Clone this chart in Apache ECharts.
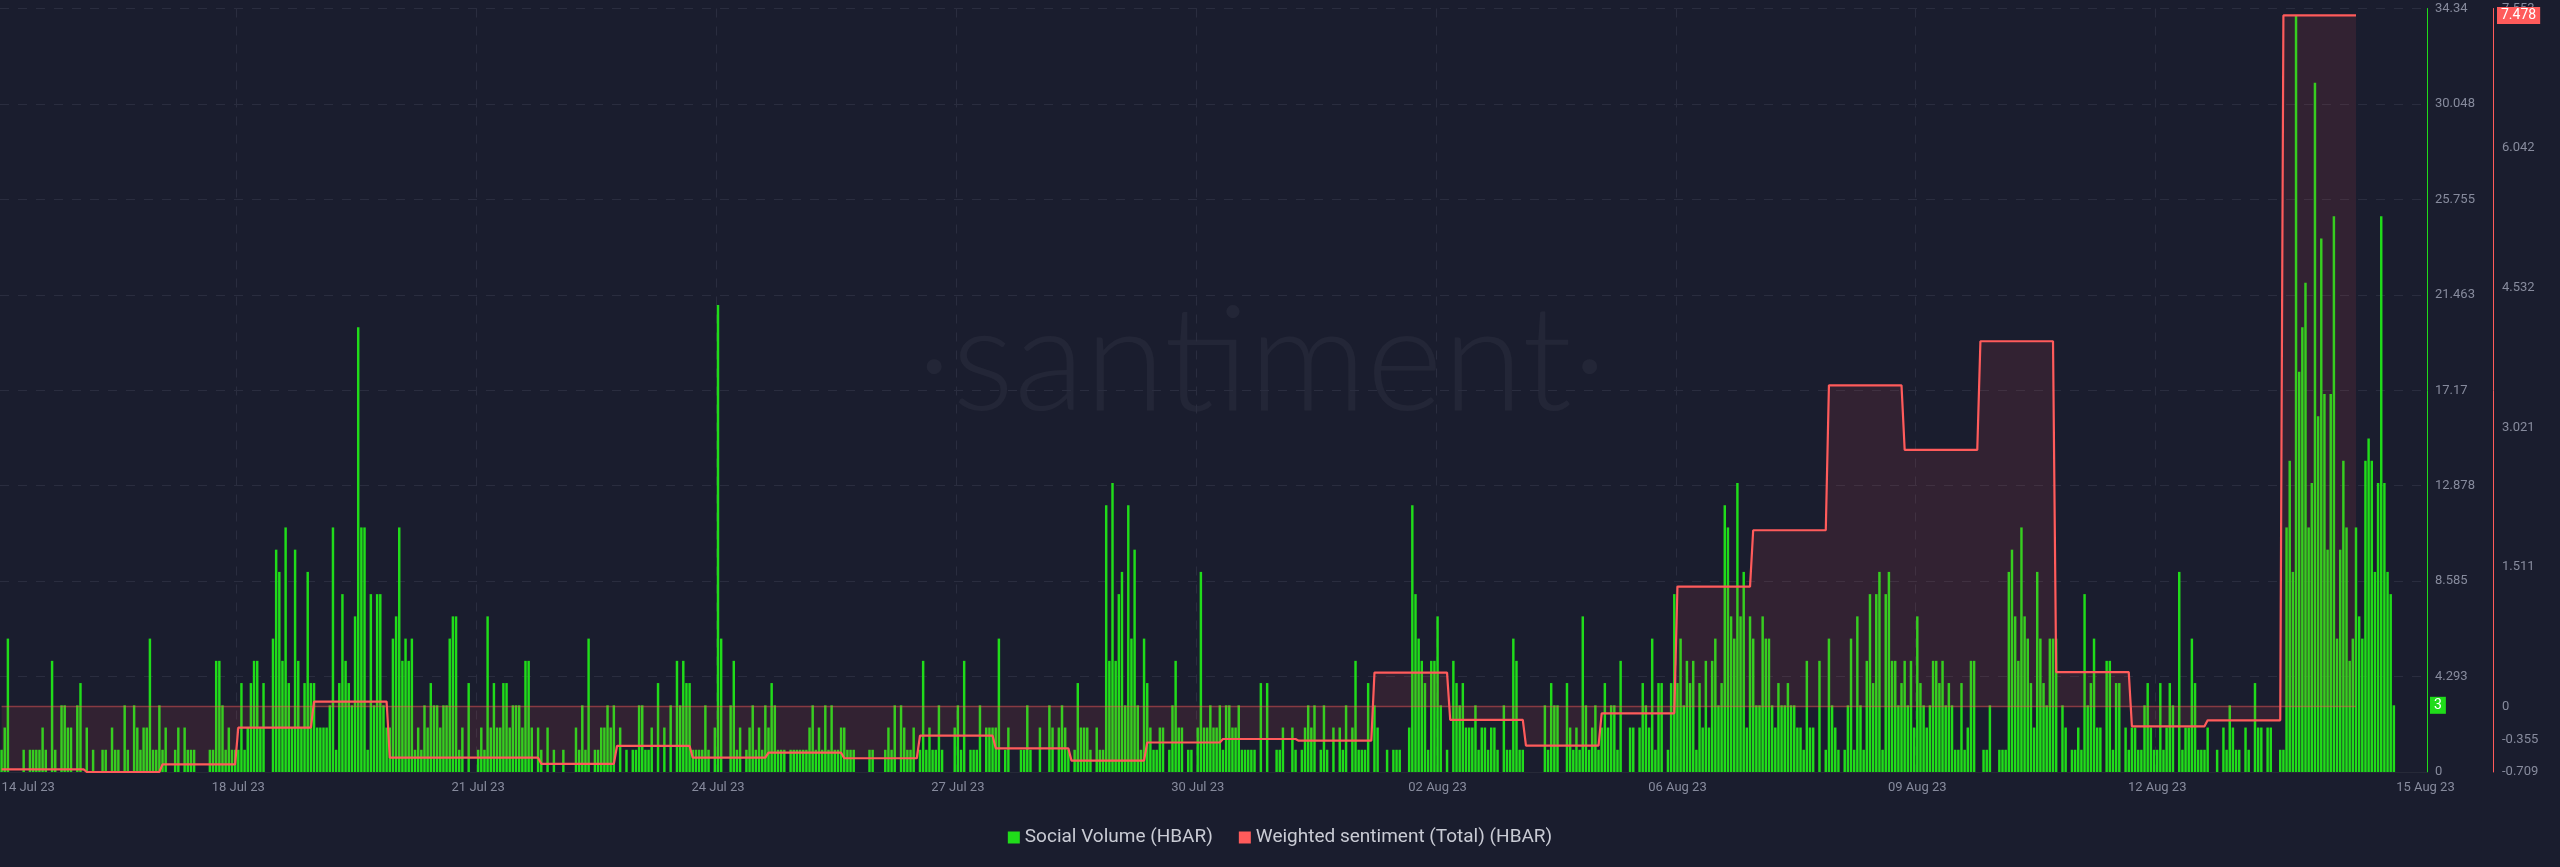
<!DOCTYPE html>
<html>
<head>
<meta charset="utf-8">
<script src="https://cdn.jsdelivr.net/npm/echarts@6/dist/echarts.min.js"></script>
<style>
html,body{margin:0;padding:0;background:#1a1d2e;}
#chart{width:2560px;height:867px;}
</style>
</head>
<body>
<div id="chart"></div>
<script>
// ---------- DATA ----------
// Hourly categories start at 14 Jul 2023 21:00 (UTC); 769 hourly slots on the axis
const startTime = '2023-07-14 21:00';
const slotCount = 769;

// Social Volume (HBAR), hourly, starting at startTime
const socialVolume = [
1,2,6,0,0,0,0,1,0,1,1,1,1,2,1,0,5,1,0,3,
3,2,2,0,3,4,0,2,0,1,0,0,1,1,0,2,1,1,0,3,
1,0,3,2,1,2,2,6,1,1,3,1,2,0,0,1,2,0,2,1,
1,1,0,0,0,0,1,1,5,5,3,1,2,1,1,1,4,1,2,4,
5,5,2,4,0,0,6,10,9,5,11,4,2,10,5,2,4,9,4,4,
2,2,2,2,3,11,1,4,8,5,4,3,7,20,11,11,1,8,3,8,
8,3,2,2,6,7,11,5,6,5,6,1,2,1,3,2,4,3,3,2,
3,3,6,7,7,1,2,0,4,0,0,1,2,1,7,2,4,2,2,4,
4,2,3,3,3,2,5,5,2,0,2,1,0,2,0,1,0,0,1,0,
0,0,2,1,3,1,6,0,1,1,2,2,3,2,3,0,2,0,1,0,
1,1,3,3,1,1,2,0,4,0,2,0,3,0,5,3,5,4,4,1,
1,1,1,3,1,0,2,21,6,0,0,3,5,1,2,0,1,2,3,1,
2,1,3,2,4,3,1,1,1,0,1,1,1,1,1,1,2,3,1,2,
1,3,1,3,1,1,2,2,1,1,1,0,0,0,0,1,1,0,0,0,
1,2,1,3,0,3,2,1,1,2,0,1,5,1,2,1,1,3,1,0,
0,0,2,3,1,5,0,1,1,1,3,0,2,2,2,2,6,0,1,2,
0,0,0,1,1,3,1,0,0,2,0,0,3,2,0,2,3,2,1,0,
1,4,2,2,2,1,0,2,1,1,12,5,13,5,8,9,3,12,6,10,
3,1,6,4,2,1,1,2,2,0,1,3,5,2,2,0,1,1,0,2,
9,2,2,3,2,2,3,1,3,3,2,2,3,1,1,1,1,1,0,4,
0,4,0,0,1,1,2,0,0,2,1,0,1,2,3,2,3,0,1,3,
1,0,2,0,2,1,3,0,2,5,1,1,1,4,0,3,2,0,0,1,
0,1,1,1,0,0,2,12,8,6,5,4,1,5,5,7,3,0,1,0,
5,4,3,4,2,2,2,3,1,2,2,1,2,2,1,0,3,1,1,6,
5,1,1,0,0,0,0,0,0,3,1,4,3,3,0,0,4,2,1,2,
1,7,3,1,2,3,1,2,4,2,3,3,1,5,0,0,2,2,0,2,
4,3,2,6,1,4,4,0,1,4,8,4,6,3,5,4,5,1,4,2,
5,2,5,6,3,4,12,11,7,6,13,7,9,2,7,6,3,3,7,6,
6,3,2,4,3,3,4,3,3,2,2,1,5,2,2,0,5,0,1,6,
3,2,1,0,1,3,6,1,7,3,1,5,8,4,8,9,1,8,9,5,
5,3,4,5,3,5,2,7,4,3,2,3,5,5,4,5,3,4,3,1,
1,4,1,2,5,5,0,0,1,1,3,0,0,1,1,1,9,10,7,5,
11,7,6,4,2,9,6,4,3,6,6,6,0,3,2,0,1,1,2,1,
8,3,4,6,2,2,0,5,5,1,4,4,0,2,1,2,2,1,1,3,
4,2,1,1,4,1,2,4,3,0,9,1,2,2,6,4,1,1,1,2,
0,0,1,0,2,1,3,2,1,1,0,2,1,0,4,2,2,0,2,2,
0,0,1,1,11,14,9,34,18,20,22,11,13,31,16,24,17,10,17,25,
6,10,14,11,5,6,11,7,6,14,15,14,9,13,25,13,9,8,3
];

// Weighted sentiment (Total) (HBAR), one value per day
const sentimentDays = [
'2023-07-14','2023-07-15','2023-07-16','2023-07-17','2023-07-18','2023-07-19','2023-07-20','2023-07-21',
'2023-07-22','2023-07-23','2023-07-24','2023-07-25','2023-07-26','2023-07-27','2023-07-28','2023-07-29',
'2023-07-30','2023-07-31','2023-08-01','2023-08-02','2023-08-03','2023-08-04','2023-08-05','2023-08-06',
'2023-08-07','2023-08-08','2023-08-09','2023-08-10','2023-08-11','2023-08-12','2023-08-13','2023-08-14'
];
const sentimentValues = [
-0.68,-0.68,-0.709,-0.626,-0.229,0.052,-0.554,-0.554,
-0.62,-0.427,-0.554,-0.5,-0.56,-0.316,-0.453,-0.586,
-0.39,-0.352,-0.37,0.366,-0.146,-0.424,-0.074,1.297,
1.907,3.475,2.776,3.952,0.372,-0.215,-0.15,7.478
];

// Axis ticks
const xTickTimes = ['2023-07-14 21:00','2023-07-18 00:00','2023-07-21 04:00','2023-07-24 08:00','2023-07-27 12:00',
  '2023-07-30 16:00','2023-08-02 20:00','2023-08-06 00:00','2023-08-09 04:00','2023-08-12 08:00','2023-08-15 21:00'];
const xTickLabels = ['14 Jul 23','18 Jul 23','21 Jul 23','24 Jul 23','27 Jul 23','30 Jul 23','02 Aug 23','06 Aug 23','09 Aug 23','12 Aug 23','15 Aug 23'];
const volumeTickLabels = ['0','4.293','8.585','12.878','17.17','21.463','25.755','30.048','34.34'];
const volumeMax = 34.34;
const sentimentTickValues = [-0.709,-0.355,0,1.511,3.021,4.532,6.042,7.553];
const sentimentMin = -0.709, sentimentMax = 7.553;

// ---------- BUILD ----------
function pad(n){return (n<10?'0':'')+n;}
function fmt(d){return d.getUTCFullYear()+'-'+pad(d.getUTCMonth()+1)+'-'+pad(d.getUTCDate())+' '+pad(d.getUTCHours())+':00';}
const t0 = new Date(startTime.replace(' ','T')+':00Z').getTime();
const categories = [];
for (let i=0;i<slotCount;i++) categories.push(fmt(new Date(t0+i*3600000)));
const catIndex = {};
categories.forEach((c,i)=>catIndex[c]=i);

// sentiment: daily value held from the first to the last hour of each day
const sentimentData = [];
sentimentDays.forEach((d,k)=>{
  let s = catIndex[d+' 00:00']; if (s===undefined) s = 0;
  const e = catIndex[d+' 23:00'];
  sentimentData.push([categories[s], sentimentValues[k]]);
  sentimentData.push([categories[e], sentimentValues[k]]);
});
const zeroLine = [[sentimentData[0][0],0],[sentimentData[sentimentData.length-1][0],0]];
const lastVolume = socialVolume[socialVolume.length-1];
const lastSentiment = sentimentValues[sentimentValues.length-1];

const tickSet = {}; xTickTimes.forEach((t,i)=>tickSet[t]=xTickLabels[i]);
const innerTicks = {}; xTickTimes.slice(1,-1).forEach(t=>innerTicks[t]=1);

const green = '#20dc1a', red = '#ff5b5b', labelColor = '#878b9d';
const font = 'Roboto, "Noto Sans", sans-serif';

const chart = echarts.init(document.getElementById('chart'), null, {renderer:'canvas'});
chart.setOption({
  backgroundColor: '#1a1d2e',
  animation: false,
  textStyle: {fontFamily: font},
  graphic: [{
    type: 'text', x: 1262, y: 290, z: 0, silent: true,
    style: {text: '·santiment·', textAlign: 'center', fill: 'rgba(255,255,255,0.045)', font: '300 146px Lato, sans-serif'}
  }],
  legend: {
    data: ['Social Volume (HBAR)','Weighted sentiment (Total) (HBAR)'],
    left: 'center', top: 823, icon: 'rect', itemWidth: 12, itemHeight: 12, itemGap: 26,
    textStyle: {color: '#c9cbd4', fontSize: 19, fontFamily: '"Liberation Sans Narrow", Roboto, sans-serif'}
  },
  grid: {left: 0, right: 133, top: 8.5, bottom: 95, containLabel: false, outerBoundsMode: 'none'},
  xAxis: {
    type: 'category', data: categories, boundaryGap: true,
    axisLine: {show: true, lineStyle: {color: '#262938'}},
    axisTick: {show: false},
    axisLabel: {
      color: labelColor, fontSize: 13, margin: 9, alignMinLabel: 'left',
      interval: (i, v) => tickSet[v] !== undefined,
      formatter: v => tickSet[v] || ''
    },
    splitLine: {show: true, interval: (i, v) => innerTicks[v] === 1,
      lineStyle: {color: '#2a2d3f', type: [9, 9], width: 1}}
  },
  yAxis: [{
    type: 'value', position: 'right', min: 0, max: volumeMax, interval: volumeMax/8,
    axisLine: {show: true, lineStyle: {color: green, width: 1}},
    axisTick: {show: false},
    axisLabel: {color: labelColor, fontSize: 13, margin: 8,
      formatter: v => volumeTickLabels[Math.round(v/(volumeMax/8))] || ''},
    splitLine: {show: true, lineStyle: {color: '#2a2d3f', type: [9, 9], width: 1}}
  },{
    type: 'value', position: 'right', offset: 66, min: sentimentMin, max: sentimentMax,
    axisLine: {show: true, lineStyle: {color: red, width: 1}},
    axisTick: {show: false},
    axisLabel: {color: labelColor, fontSize: 13, margin: 9, customValues: sentimentTickValues,
      formatter: v => String(v)},
    splitLine: {show: false}
  }],
  series: [{
    name: 'Social Volume (HBAR)', type: 'bar', yAxisIndex: 0,
    data: socialVolume, barWidth: '78%',
    itemStyle: {color: green},
    markLine: {
      silent: true, symbol: 'none', animation: false, precision: 3,
      lineStyle: {color: 'rgba(0,0,0,0)', width: 0},
      data: [{yAxis: lastVolume}],
      label: {show: true, position: 'end', distance: 3, formatter: () => String(lastVolume), color: '#fff',
        backgroundColor: green, padding: [2, 4, 1, 4], fontSize: 14, fontFamily: font}
    }
  },{
    name: 'zero', type: 'line', yAxisIndex: 1, data: zeroLine, symbol: 'none', silent: true,
    lineStyle: {color: 'rgba(255,91,91,0.45)', width: 1.5}
  },{
    name: 'Weighted sentiment (Total) (HBAR)', type: 'line', yAxisIndex: 1,
    data: sentimentData, symbol: 'none',
    itemStyle: {color: red},
    lineStyle: {color: red, width: 2.2},
    areaStyle: {color: 'rgba(255,88,88,0.15)'},
    markLine: {
      silent: true, symbol: 'none', animation: false, precision: 3,
      lineStyle: {color: 'rgba(0,0,0,0)', width: 0},
      data: [{yAxis: lastSentiment}],
      label: {show: true, position: 'end', distance: 70, formatter: () => String(lastSentiment), color: '#fff',
        backgroundColor: red, padding: [2, 4, 1, 4], fontSize: 14, fontFamily: font}
    }
  }]
});
</script>
</body>
</html>
